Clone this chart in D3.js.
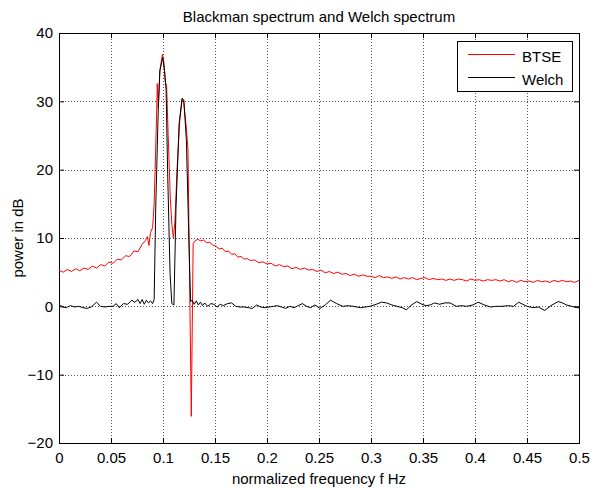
<!DOCTYPE html>
<html>
<head>
<meta charset="utf-8">
<script src="https://cdn.jsdelivr.net/npm/d3@7"></script>
<style>
  body { margin: 0; background: #fff; }
  text { font-family: "Liberation Sans", Arial, sans-serif; }
</style>
</head>
<body>
<div id="chart"></div>
<script>
var width = 590,
    height = 489;

var margin = {top: 33, right: 11, bottom: 46, left: 59};

var xTicks = [0, 0.05, 0.1, 0.15, 0.2, 0.25, 0.3, 0.35, 0.4, 0.45, 0.5];
var yTicks = [-20, -10, 0, 10, 20, 30, 40];

// BTSE (Blackman-Tukey) spectrum
var btseF = [0.000, 0.004, 0.008, 0.012, 0.016, 0.020, 0.024, 0.028, 0.032, 0.036, 0.040, 0.044,
  0.048, 0.052, 0.056, 0.060, 0.064, 0.068, 0.072, 0.076, 0.080, 0.083, 0.085, 0.0865, 0.088, 0.090,
  0.0915, 0.0935, 0.0945, 0.0955, 0.0970, 0.0995, 0.1010, 0.1020, 0.1035, 0.1050, 0.1070, 0.1085,
  0.1100, 0.1115, 0.1135, 0.1160, 0.1185, 0.1200, 0.1225, 0.1240, 0.1255, 0.1272, 0.1290, 0.1310,
  0.1335, 0.136, 0.139, 0.142, 0.145, 0.148, 0.151, 0.154, 0.157, 0.160, 0.163, 0.166, 0.169, 0.172,
  0.175, 0.178, 0.181, 0.184, 0.188, 0.192, 0.196, 0.200, 0.204, 0.208, 0.212, 0.216, 0.220, 0.224,
  0.228, 0.232, 0.236, 0.240, 0.244, 0.248, 0.252, 0.256, 0.260, 0.264, 0.268, 0.272, 0.276, 0.280,
  0.284, 0.288, 0.292, 0.296, 0.300, 0.304, 0.308, 0.312, 0.316, 0.320, 0.324, 0.328, 0.332, 0.336,
  0.340, 0.344, 0.348, 0.352, 0.356, 0.360, 0.364, 0.368, 0.372, 0.376, 0.380, 0.384, 0.388, 0.392,
  0.396, 0.400, 0.404, 0.408, 0.412, 0.416, 0.420, 0.424, 0.428, 0.432, 0.436, 0.440, 0.444, 0.448,
  0.452, 0.456, 0.460, 0.464, 0.468, 0.472, 0.476, 0.480, 0.484, 0.488, 0.492, 0.496, 0.500];
var btseDb = [5.3, 5.0, 5.4, 5.1, 5.5, 5.2, 5.6, 5.4, 5.9, 5.6, 6.1, 5.9,
  6.5, 6.3, 6.9, 6.8, 7.4, 7.3, 8.1, 8.0, 9.1, 9.6, 10.2, 8.9, 10.8, 11.5,
  15, 26, 32.6, 29.0, 34.5, 36.9, 35.5, 33.0, 32.2, 25, 16, 12,
  10.0, 12.5, 20, 27, 30.4, 29.8, 26, 23, 5, -16.1, 9.2, 9.6,
  9.8, 9.6, 9.7, 9.3, 9.4, 8.9, 8.8, 8.4, 8.5, 8.0, 8.1, 7.6, 7.7, 7.2,
  7.3, 6.9, 7.0, 6.7, 6.8, 6.4, 6.5, 6.2, 6.3, 5.9, 6.1, 5.8, 5.9, 5.5,
  5.7, 5.4, 5.6, 5.3, 5.4, 5.1, 5.3, 4.9, 5.1, 4.8, 5.0, 4.7, 4.8, 4.5,
  4.7, 4.4, 4.6, 4.4, 4.4, 4.2, 4.5, 4.2, 4.3, 4.1, 4.3, 4.0, 4.2, 4.0,
  4.2, 3.9, 4.1, 4.2, 3.9, 4.1, 3.9, 4.0, 3.8, 4.0, 3.8, 4.0, 3.9, 3.7,
  4.0, 3.8, 3.9, 3.7, 3.9, 3.8, 3.9, 3.7, 3.9, 3.6, 3.8, 3.5, 3.8, 3.6,
  3.7, 3.5, 3.8, 3.6, 3.7, 3.5, 3.8, 3.6, 3.8, 3.6, 3.7, 3.5, 3.8];

// Welch spectrum
var welchF = [0.000, 0.004, 0.007, 0.011, 0.015, 0.019, 0.023, 0.027, 0.031, 0.036, 0.040, 0.044,
  0.048, 0.052, 0.055, 0.058, 0.062, 0.066, 0.070, 0.073, 0.076, 0.078, 0.080, 0.082, 0.084, 0.086,
  0.088, 0.090, 0.0915, 0.093, 0.0955, 0.097, 0.0997, 0.1015, 0.103, 0.1045, 0.1068, 0.1085, 0.1105,
  0.1125, 0.1155, 0.1183, 0.120, 0.1225, 0.1245, 0.1265, 0.128, 0.130, 0.132, 0.134, 0.136, 0.138,
  0.140, 0.143, 0.146, 0.149, 0.152, 0.155, 0.158, 0.162, 0.166, 0.170, 0.174, 0.178, 0.182, 0.186,
  0.190, 0.194, 0.198, 0.202, 0.206, 0.210, 0.214, 0.218, 0.222, 0.226, 0.230, 0.234, 0.238, 0.242,
  0.246, 0.251, 0.256, 0.261, 0.267, 0.273, 0.278, 0.283, 0.290, 0.299, 0.305, 0.310, 0.315, 0.320,
  0.325, 0.330, 0.334, 0.339, 0.344, 0.349, 0.353, 0.357, 0.361, 0.366, 0.371, 0.376, 0.382, 0.387,
  0.392, 0.398, 0.403, 0.409, 0.415, 0.420, 0.426, 0.432, 0.437, 0.442, 0.446, 0.450, 0.456, 0.461,
  0.467, 0.473, 0.480, 0.484, 0.488, 0.493, 0.498, 0.500];
var welchDb = [0.2, -0.1, -0.2, 0.1, -0.1, 0.0, -0.2, -0.3, -0.1, 0.6, 0.0, -0.1,
  0.0, 0.0, 0.4, -0.2, 0.4, 0.3, 0.9, 0.6, 1.0, 0.4, 1.0, 0.3, 0.9, 0.5,
  0.8, 0.4, 1.0, 14.5, 29.1, 34.5, 36.4, 34.5, 31.6, 19.4, 4.8, 0.4, 0.2,
  14.5, 26.7, 30.4, 30.2, 24.3, 12.1, 0.7, 0.9, 0.3, 0.8, 0.2, 0.6, 0.1,
  0.5, 0.0, 0.4, 0.3, -0.1, 0.3, 0.1, 0.4, 0.5, 0.0, -0.1, -0.1, -0.2, -0.3,
  0.2, -0.1, -0.2, -0.1, 0.0, 0.1, -0.1, -0.3, 0.0, -0.2, 0.1, 0.4, 0.0, -0.2,
  0.2, -0.3, 0.2, 0.9, 0.4, 0.0, 0.1, 0.0, -0.2, 0.0, 0.3, 0.6, 0.5, 0.2,
  0.0, -0.2, -0.5, 0.2, 0.7, 0.3, 0.1, 0.2, 0.5, 0.3, 0.5, 0.5, 0.0, 0.1,
  0.0, 0.2, 0.6, 0.2, -0.1, 0.0, 0.0, 0.1, 0.0, 0.6, 0.3, 0.0, -0.2, -0.1,
  -0.6, 0.1, 0.7, 0.5, 0.2, 0.0, -0.2, -0.2];

var seriesNames = ["BTSE", "Welch"];
var seriesColors = ["#ff0000", "#000000"];

var svg = d3.select("#chart").append("svg")
    .attr("width", width)
    .attr("height", height);

var x = d3.scaleLinear()
    .domain([0, 0.5])
    .range([margin.left, width - margin.right]);

var y = d3.scaleLinear()
    .domain([-20, 40])
    .range([height - margin.bottom, margin.top]);

var x0 = margin.left, x1 = width - margin.right,
    y0 = height - margin.bottom, y1 = margin.top;

// dotted grid
var grid = svg.append("g");
grid.selectAll("line.gx")
    .data(xTicks.slice(1, -1))
    .enter().append("line")
    .attr("x1", function(d) { return Math.round(x(d)) + 0.5; })
    .attr("x2", function(d) { return Math.round(x(d)) + 0.5; })
    .attr("y1", y1).attr("y2", y0)
    .attr("stroke", "#555").attr("stroke-dasharray", "1,2");
grid.selectAll("line.gy")
    .data(yTicks.slice(1, -1))
    .enter().append("line")
    .attr("y1", function(d) { return Math.round(y(d)) + 0.5; })
    .attr("y2", function(d) { return Math.round(y(d)) + 0.5; })
    .attr("x1", x0).attr("x2", x1)
    .attr("stroke", "#555").attr("stroke-dasharray", "1,2");

// axes, ticks pointing inward like matlab
svg.append("g")
    .attr("transform", "translate(0," + y0 + ")")
    .call(d3.axisBottom(x).tickValues(xTicks).tickSize(-5).tickPadding(9)
      .tickFormat(function(d) { return d3.format("")(d); }));
svg.append("g")
    .attr("transform", "translate(0," + y1 + ")")
    .call(d3.axisTop(x).tickValues(xTicks).tickSize(-5).tickFormat(""));
svg.append("g")
    .attr("transform", "translate(" + x0 + ",0)")
    .call(d3.axisLeft(y).tickValues(yTicks).tickSize(-5).tickPadding(6));
svg.append("g")
    .attr("transform", "translate(" + x1 + ",0)")
    .call(d3.axisRight(y).tickValues(yTicks).tickSize(-5).tickFormat(""));

svg.selectAll(".domain").remove();
svg.selectAll(".tick line").attr("stroke", "#000");
svg.selectAll(".tick text")
    .attr("fill", "#000")
    .style("font-size", "15px");

svg.append("rect")
    .attr("x", x0 + 0.5).attr("y", y1 + 0.5)
    .attr("width", x1 - x0).attr("height", y0 - y1)
    .attr("fill", "none").attr("stroke", "#000");

// curves
var line = d3.line()
    .x(function(d) { return x(d[0]); })
    .y(function(d) { return y(d[1]); });

svg.append("path")
    .datum(btseF.map(function(f, i) { return [f, btseDb[i]]; }))
    .attr("d", line)
    .attr("fill", "none")
    .attr("stroke", seriesColors[0])
    .attr("stroke-width", 1);

svg.append("path")
    .datum(welchF.map(function(f, i) { return [f, welchDb[i]]; }))
    .attr("d", line)
    .attr("fill", "none")
    .attr("stroke", seriesColors[1])
    .attr("stroke-width", 1);

// title and labels
svg.append("text")
    .attr("x", (x0 + x1) / 2).attr("y", 22)
    .attr("text-anchor", "middle")
    .style("font-size", "15px")
    .text("Blackman spectrum and Welch spectrum");

svg.append("text")
    .attr("x", (x0 + x1) / 2).attr("y", 484)
    .attr("text-anchor", "middle")
    .style("font-size", "15px")
    .text("normalized frequency f Hz");

svg.append("text")
    .attr("transform", "translate(23," + (y0 + y1) / 2 + ")rotate(-90)")
    .attr("text-anchor", "middle")
    .style("font-size", "15px")
    .text("power in dB");

// legend
var legend = svg.append("g");
legend.append("rect")
    .attr("x", 457.5).attr("y", 41.5)
    .attr("width", 115).attr("height", 50)
    .attr("fill", "#fff").attr("stroke", "#000");

var items = legend.selectAll("g.item")
    .data(seriesNames)
    .enter().append("g")
    .attr("transform", function(d, i) { return "translate(0," + (54 + i * 23) + ")"; });
items.append("line")
    .attr("x1", 468).attr("x2", 515)
    .attr("y1", 0.5).attr("y2", 0.5)
    .attr("stroke", function(d, i) { return seriesColors[i]; });
items.append("text")
    .attr("x", 522).attr("y", 8)
    .style("font-size", "15px")
    .text(function(d) { return d; });
</script>
</body>
</html>
